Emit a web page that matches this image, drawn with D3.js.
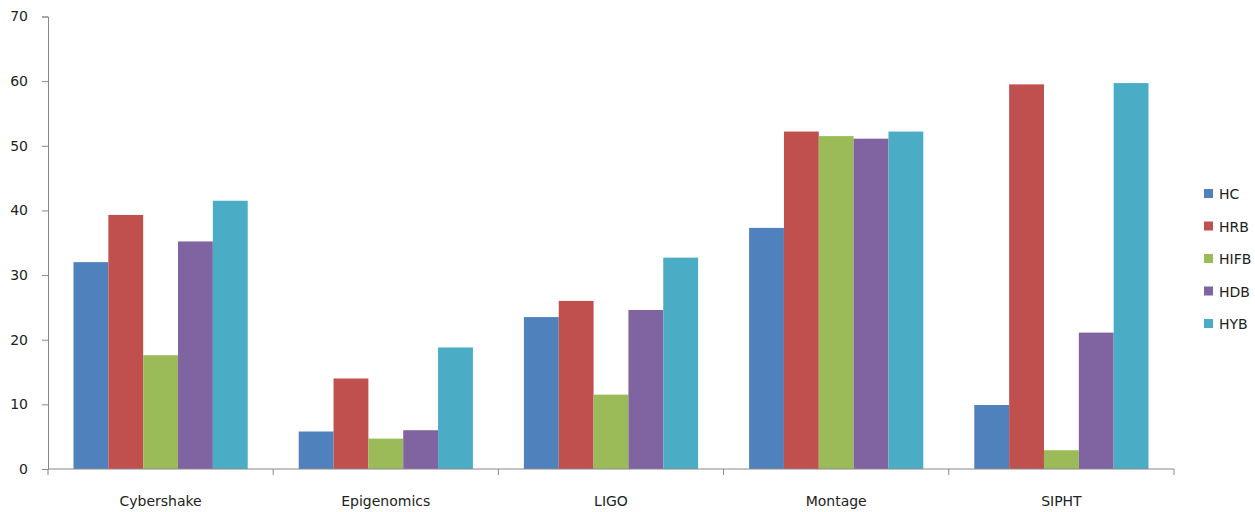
<!DOCTYPE html>
<html><head><meta charset="utf-8">
<script src="https://cdn.jsdelivr.net/npm/d3@7"></script>
<style>body{margin:0;background:#fff;} text{font-family:"DejaVu Sans",Verdana,sans-serif;fill:#222;}</style>
</head><body><svg id="c" width="1255" height="512"></svg>
<script>
const categories = ["Cybershake","Epigenomics","LIGO","Montage","SIPHT"];
const seriesNames = ["HC","HRB","HIFB","HDB","HYB"];
const HC   = [32.0, 5.8, 23.5, 37.3, 9.9];
const HRB  = [39.3, 14.0, 26.0, 52.2, 59.5];
const HIFB = [17.6, 4.7, 11.5, 51.5, 2.9];
const HDB  = [35.2, 6.0, 24.6, 51.1, 21.1];
const HYB  = [41.5, 18.8, 32.7, 52.2, 59.7];
const colors = ["#4F81BD","#C0504D","#9BBB59","#8064A2","#4BACC6"];
const yTicks = [0,10,20,30,40,50,60,70];

const series = [HC,HRB,HIFB,HDB,HYB];
const svg = d3.select("#c");
const x0 = d3.scaleBand().domain(categories).range([48,1174]).paddingInner(0).paddingOuter(0);
const x1 = d3.scaleBand().domain(seriesNames).range([25.5, x0.bandwidth()-25.5]);
const y = d3.scaleLinear().domain([0,70]).range([469,16.5]);

categories.forEach((c,ci)=>{
  const g = svg.append("g").attr("transform",`translate(${x0(c)},0)`);
  seriesNames.forEach((s,si)=>{
    g.append("rect").attr("x",x1(s)).attr("width",x1.bandwidth())
      .attr("y",y(series[si][ci])).attr("height",y(0)-y(series[si][ci]))
      .attr("fill",colors[si]);
  });
});

const ya = svg.append("g").attr("transform","translate(48,0)")
  .call(d3.axisLeft(y).tickValues(yTicks).tickSize(6).tickPadding(14));
ya.select(".domain").attr("stroke","#888");
ya.selectAll(".tick line").attr("stroke","#888");
ya.selectAll(".tick text").style("font-size","14px").style("font-family","DejaVu Sans").attr("fill","#222");

const xa = svg.append("g").attr("transform","translate(0,469)");
xa.append("line").attr("x1",48).attr("x2",1174).attr("stroke","#888");
const bounds = categories.map(c=>x0(c)).concat([x0.range()[1]]);
xa.selectAll("line.t").data(bounds).enter().append("line")
  .attr("x1",d=>d).attr("x2",d=>d).attr("y1",0).attr("y2",6).attr("stroke","#888");
xa.selectAll("text").data(categories).enter().append("text")
  .attr("x",d=>x0(d)+x0.bandwidth()/2).attr("y",37).attr("text-anchor","middle")
  .style("font-size","14px").text(d=>d);

const lg = svg.append("g");
seriesNames.forEach((s,i)=>{
  const yy = 194 + i*32.5;
  lg.append("rect").attr("x",1204).attr("y",yy-5).attr("width",9).attr("height",9).attr("fill",colors[i]);
  lg.append("text").attr("x",1219).attr("y",yy+5).style("font-size","14px").text(s);
});
</script></body></html>
